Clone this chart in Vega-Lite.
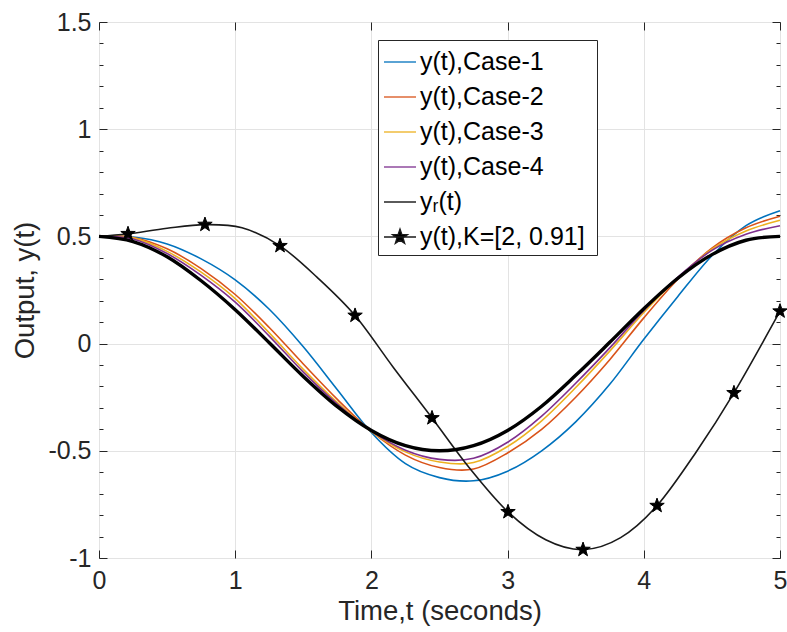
{
  "$schema": "https://vega.github.io/schema/vega-lite/v6.json",
  "width": 681,
  "height": 536,
  "autosize": {"type": "none"},
  "padding": {"left": 99, "top": 22, "right": 7, "bottom": 74},
  "background": "white",
  "config": {
    "view": {"stroke": "#262626", "strokeWidth": 1},
    "font": "Liberation Sans"
  },
  "datasets": {
    "curves": [
      {"series": "y(t),Case-1", "t": 0, "y": 0.5},
      {"series": "y(t),Case-1", "t": 0.25, "y": 0.497},
      {"series": "y(t),Case-1", "t": 0.5, "y": 0.465},
      {"series": "y(t),Case-1", "t": 0.75, "y": 0.395},
      {"series": "y(t),Case-1", "t": 1, "y": 0.297},
      {"series": "y(t),Case-1", "t": 1.25, "y": 0.16},
      {"series": "y(t),Case-1", "t": 1.5, "y": -0.015},
      {"series": "y(t),Case-1", "t": 1.75, "y": -0.215},
      {"series": "y(t),Case-1", "t": 2, "y": -0.415},
      {"series": "y(t),Case-1", "t": 2.25, "y": -0.56},
      {"series": "y(t),Case-1", "t": 2.5, "y": -0.625},
      {"series": "y(t),Case-1", "t": 2.75, "y": -0.64},
      {"series": "y(t),Case-1", "t": 3, "y": -0.595},
      {"series": "y(t),Case-1", "t": 3.25, "y": -0.5},
      {"series": "y(t),Case-1", "t": 3.5, "y": -0.365},
      {"series": "y(t),Case-1", "t": 3.75, "y": -0.19},
      {"series": "y(t),Case-1", "t": 4, "y": 0.02},
      {"series": "y(t),Case-1", "t": 4.25, "y": 0.22},
      {"series": "y(t),Case-1", "t": 4.5, "y": 0.41},
      {"series": "y(t),Case-1", "t": 4.75, "y": 0.55},
      {"series": "y(t),Case-1", "t": 5, "y": 0.62},
      {"series": "y(t),Case-2", "t": 0, "y": 0.5},
      {"series": "y(t),Case-2", "t": 0.25, "y": 0.495},
      {"series": "y(t),Case-2", "t": 0.5, "y": 0.442},
      {"series": "y(t),Case-2", "t": 0.75, "y": 0.35},
      {"series": "y(t),Case-2", "t": 1, "y": 0.229},
      {"series": "y(t),Case-2", "t": 1.25, "y": 0.075},
      {"series": "y(t),Case-2", "t": 1.5, "y": -0.095},
      {"series": "y(t),Case-2", "t": 1.75, "y": -0.26},
      {"series": "y(t),Case-2", "t": 2, "y": -0.41},
      {"series": "y(t),Case-2", "t": 2.25, "y": -0.52},
      {"series": "y(t),Case-2", "t": 2.5, "y": -0.578},
      {"series": "y(t),Case-2", "t": 2.75, "y": -0.585},
      {"series": "y(t),Case-2", "t": 3, "y": -0.51},
      {"series": "y(t),Case-2", "t": 3.25, "y": -0.4},
      {"series": "y(t),Case-2", "t": 3.5, "y": -0.25},
      {"series": "y(t),Case-2", "t": 3.75, "y": -0.075},
      {"series": "y(t),Case-2", "t": 4, "y": 0.12},
      {"series": "y(t),Case-2", "t": 4.25, "y": 0.3},
      {"series": "y(t),Case-2", "t": 4.5, "y": 0.445},
      {"series": "y(t),Case-2", "t": 4.75, "y": 0.54},
      {"series": "y(t),Case-2", "t": 5, "y": 0.594},
      {"series": "y(t),Case-3", "t": 0, "y": 0.5},
      {"series": "y(t),Case-3", "t": 0.25, "y": 0.493},
      {"series": "y(t),Case-3", "t": 0.5, "y": 0.43},
      {"series": "y(t),Case-3", "t": 0.75, "y": 0.333},
      {"series": "y(t),Case-3", "t": 1, "y": 0.21},
      {"series": "y(t),Case-3", "t": 1.25, "y": 0.05},
      {"series": "y(t),Case-3", "t": 1.5, "y": -0.12},
      {"series": "y(t),Case-3", "t": 1.75, "y": -0.275},
      {"series": "y(t),Case-3", "t": 2, "y": -0.41},
      {"series": "y(t),Case-3", "t": 2.25, "y": -0.505},
      {"series": "y(t),Case-3", "t": 2.5, "y": -0.552},
      {"series": "y(t),Case-3", "t": 2.75, "y": -0.555},
      {"series": "y(t),Case-3", "t": 3, "y": -0.48},
      {"series": "y(t),Case-3", "t": 3.25, "y": -0.36},
      {"series": "y(t),Case-3", "t": 3.5, "y": -0.205},
      {"series": "y(t),Case-3", "t": 3.75, "y": -0.035},
      {"series": "y(t),Case-3", "t": 4, "y": 0.145},
      {"series": "y(t),Case-3", "t": 4.25, "y": 0.305},
      {"series": "y(t),Case-3", "t": 4.5, "y": 0.44},
      {"series": "y(t),Case-3", "t": 4.75, "y": 0.525},
      {"series": "y(t),Case-3", "t": 5, "y": 0.575},
      {"series": "y(t),Case-4", "t": 0, "y": 0.5},
      {"series": "y(t),Case-4", "t": 0.25, "y": 0.488},
      {"series": "y(t),Case-4", "t": 0.5, "y": 0.42},
      {"series": "y(t),Case-4", "t": 0.75, "y": 0.318},
      {"series": "y(t),Case-4", "t": 1, "y": 0.193},
      {"series": "y(t),Case-4", "t": 1.25, "y": 0.035},
      {"series": "y(t),Case-4", "t": 1.5, "y": -0.133},
      {"series": "y(t),Case-4", "t": 1.75, "y": -0.282},
      {"series": "y(t),Case-4", "t": 2, "y": -0.408},
      {"series": "y(t),Case-4", "t": 2.25, "y": -0.497},
      {"series": "y(t),Case-4", "t": 2.5, "y": -0.54},
      {"series": "y(t),Case-4", "t": 2.75, "y": -0.535},
      {"series": "y(t),Case-4", "t": 3, "y": -0.46},
      {"series": "y(t),Case-4", "t": 3.25, "y": -0.338},
      {"series": "y(t),Case-4", "t": 3.5, "y": -0.185},
      {"series": "y(t),Case-4", "t": 3.75, "y": -0.02},
      {"series": "y(t),Case-4", "t": 4, "y": 0.155},
      {"series": "y(t),Case-4", "t": 4.25, "y": 0.31},
      {"series": "y(t),Case-4", "t": 4.5, "y": 0.435},
      {"series": "y(t),Case-4", "t": 4.75, "y": 0.51},
      {"series": "y(t),Case-4", "t": 5, "y": 0.55},
      {"series": "yᵣ(t)", "t": 0, "y": 0.5},
      {"series": "yᵣ(t)", "t": 0.25, "y": 0.476},
      {"series": "yᵣ(t)", "t": 0.5, "y": 0.405},
      {"series": "yᵣ(t)", "t": 0.75, "y": 0.293},
      {"series": "yᵣ(t)", "t": 1, "y": 0.158},
      {"series": "yᵣ(t)", "t": 1.25, "y": 0.004},
      {"series": "yᵣ(t)", "t": 1.5, "y": -0.153},
      {"series": "yᵣ(t)", "t": 1.75, "y": -0.294},
      {"series": "yᵣ(t)", "t": 2, "y": -0.405},
      {"series": "yᵣ(t)", "t": 2.25, "y": -0.476},
      {"series": "yᵣ(t)", "t": 2.5, "y": -0.5},
      {"series": "yᵣ(t)", "t": 2.75, "y": -0.476},
      {"series": "yᵣ(t)", "t": 3, "y": -0.405},
      {"series": "yᵣ(t)", "t": 3.25, "y": -0.292},
      {"series": "yᵣ(t)", "t": 3.5, "y": -0.148},
      {"series": "yᵣ(t)", "t": 3.75, "y": 0.006},
      {"series": "yᵣ(t)", "t": 4, "y": 0.163},
      {"series": "yᵣ(t)", "t": 4.25, "y": 0.305},
      {"series": "yᵣ(t)", "t": 4.5, "y": 0.415},
      {"series": "yᵣ(t)", "t": 4.75, "y": 0.482},
      {"series": "yᵣ(t)", "t": 5, "y": 0.5},
      {"series": "y(t),K=[2,  0.91]", "t": 0, "y": 0.5},
      {"series": "y(t),K=[2,  0.91]", "t": 0.213, "y": 0.512},
      {"series": "y(t),K=[2,  0.91]", "t": 0.5, "y": 0.538},
      {"series": "y(t),K=[2,  0.91]", "t": 0.778, "y": 0.555},
      {"series": "y(t),K=[2,  0.91]", "t": 1.05, "y": 0.54},
      {"series": "y(t),K=[2,  0.91]", "t": 1.329, "y": 0.456},
      {"series": "y(t),K=[2,  0.91]", "t": 1.6, "y": 0.31},
      {"series": "y(t),K=[2,  0.91]", "t": 1.88, "y": 0.131},
      {"series": "y(t),K=[2,  0.91]", "t": 2.16, "y": -0.11},
      {"series": "y(t),K=[2,  0.91]", "t": 2.445, "y": -0.347},
      {"series": "y(t),K=[2,  0.91]", "t": 2.72, "y": -0.58},
      {"series": "y(t),K=[2,  0.91]", "t": 3.003, "y": -0.785},
      {"series": "y(t),K=[2,  0.91]", "t": 3.28, "y": -0.915},
      {"series": "y(t),K=[2,  0.91]", "t": 3.554, "y": -0.961},
      {"series": "y(t),K=[2,  0.91]", "t": 3.83, "y": -0.905},
      {"series": "y(t),K=[2,  0.91]", "t": 4.097, "y": -0.756},
      {"series": "y(t),K=[2,  0.91]", "t": 4.38, "y": -0.51},
      {"series": "y(t),K=[2,  0.91]", "t": 4.662, "y": -0.23},
      {"series": "y(t),K=[2,  0.91]", "t": 5, "y": 0.151}
    ],
    "stars": [
      {"t": 0.213, "y": 0.512},
      {"t": 0.778, "y": 0.555},
      {"t": 1.329, "y": 0.456},
      {"t": 1.88, "y": 0.131},
      {"t": 2.445, "y": -0.347},
      {"t": 3.003, "y": -0.785},
      {"t": 3.554, "y": -0.961},
      {"t": 4.097, "y": -0.756},
      {"t": 4.662, "y": -0.23},
      {"t": 5, "y": 0.151}
    ]
  },
  "layer": [
    {
      "data": {"name": "curves"},
      "transform": [{"filter": "datum.series !== 'yᵣ(t)'"}],
      "mark": {"type": "line", "interpolate": "cardinal", "tension": 0, "strokeWidth": 1.6},
      "encoding": {
        "x": {
          "field": "t", "type": "quantitative",
          "scale": {"domain": [0, 5], "nice": false, "zero": false},
          "axis": {
            "orient": "bottom",
            "values": [0, 1, 2, 3, 4, 5],
            "labelExpr": "toString(datum.value)",
            "labelFlush": false,
            "title": "Time,t (seconds)",
            "grid": true, "gridColor": "#e3e3e3", "gridWidth": 1,
            "domain": false,
            "tickSize": -8, "tickColor": "#262626", "tickWidth": 1,
            "labelPadding": 18, "labelFontSize": 25, "labelColor": "#262626",
            "titleFontSize": 27.5, "titleFontWeight": "normal", "titleColor": "#262626",
            "titlePadding": 4
          }
        },
        "y": {
          "field": "y", "type": "quantitative",
          "scale": {"domain": [-1, 1.5], "nice": false, "zero": false},
          "axis": {
            "orient": "left",
            "values": [-1, -0.9, -0.8, -0.7, -0.6, -0.5, -0.4, -0.3, -0.2, -0.1, 0, 0.1, 0.2, 0.3, 0.4, 0.5, 0.6, 0.7, 0.8, 0.9, 1, 1.1, 1.2, 1.3, 1.4, 1.5],
            "labelExpr": "abs(datum.value*2 - round(datum.value*2)) < 0.001 ? toString(datum.value) : ''",
            "labelFlush": false,
            "title": "Output, y(t)",
            "grid": true, "gridColor": "#e3e3e3", "gridWidth": 1,
            "gridOpacity": {"condition": {"test": "abs(datum.value*2 - round(datum.value*2)) < 0.001", "value": 1}, "value": 0},
            "domain": false,
            "tickSize": {"condition": {"test": "abs(datum.value*2 - round(datum.value*2)) < 0.001", "value": -8}, "value": -4},
            "tickColor": "#262626", "tickWidth": 1,
            "labelPadding": 16, "labelFontSize": 25, "labelColor": "#262626",
            "titleFontSize": 27.5, "titleFontWeight": "normal", "titleColor": "#262626",
            "titlePadding": 8
          }
        },
        "color": {
          "field": "series", "type": "nominal",
          "scale": {
            "domain": ["y(t),Case-1", "y(t),Case-2", "y(t),Case-3", "y(t),Case-4", "yᵣ(t)", "y(t),K=[2,  0.91]"],
            "range": ["#0072BD", "#D95319", "#EDB120", "#7E2F8E", "#000000", "#1a1a1a"]
          },
          "legend": {
            "orient": "none", "legendX": 279, "legendY": 18,
            "title": null,
            "strokeColor": "#262626", "fillColor": "white",
            "padding": 5, "cornerRadius": 0,
            "labelFontSize": 25, "labelColor": "#000000", "labelLimit": 400,
            "labelOffset": 3,
            "symbolSize": 1024, "symbolType": "stroke", "symbolStrokeWidth": 1.3,
            "rowPadding": 5,
            "encode": {
              "symbols": {
                "update": {
                  "shape": {"signal": "datum.value === 'y(t),K=[2,  0.91]' ? 'M-1,0H1M0,-0.5L0.1176,-0.1618L0.4755,-0.1545L0.1902,0.0618L0.2939,0.4045L0,0.2L-0.2939,0.4045L-0.1902,0.0618L-0.4755,-0.1545L-0.1176,-0.1618Z' : 'stroke'"},
                  "fill": {"value": "black"}
                }
              }
            }
          }
        }
      }
    },
    {
      "data": {"name": "curves"},
      "transform": [{"filter": "datum.series === 'yᵣ(t)'"}],
      "mark": {"type": "line", "interpolate": "cardinal", "tension": 0, "strokeWidth": 3.4},
      "encoding": {
        "x": {"field": "t", "type": "quantitative", "axis": null},
        "y": {"field": "y", "type": "quantitative", "axis": null},
        "color": {"field": "series", "type": "nominal"}
      }
    },
    {
      "data": {"name": "stars"},
      "mark": {
        "type": "point",
        "shape": "M0,-1L0.235,-0.324L0.951,-0.309L0.38,0.124L0.588,0.809L0,0.4L-0.588,0.809L-0.38,0.124L-0.951,-0.309L-0.235,-0.324Z",
        "filled": true, "fill": "black", "stroke": "black", "strokeWidth": 1,
        "size": 230, "opacity": 1
      },
      "encoding": {
        "x": {
          "field": "t", "type": "quantitative",
          "axis": {
            "orient": "top", "values": [0, 1, 2, 3, 4, 5],
            "labels": false, "title": null, "grid": false, "domain": false,
            "tickSize": -8, "tickColor": "#262626", "tickWidth": 1
          }
        },
        "y": {
          "field": "y", "type": "quantitative",
          "axis": {
            "orient": "right",
            "values": [-1, -0.9, -0.8, -0.7, -0.6, -0.5, -0.4, -0.3, -0.2, -0.1, 0, 0.1, 0.2, 0.3, 0.4, 0.5, 0.6, 0.7, 0.8, 0.9, 1, 1.1, 1.2, 1.3, 1.4, 1.5],
            "labels": false, "title": null, "grid": false, "domain": false,
            "tickSize": {"condition": {"test": "abs(datum.value*2 - round(datum.value*2)) < 0.001", "value": -8}, "value": -4},
            "tickColor": "#262626", "tickWidth": 1
          }
        }
      }
    }
  ],
  "resolve": {"axis": {"x": "independent", "y": "independent"}}
}
